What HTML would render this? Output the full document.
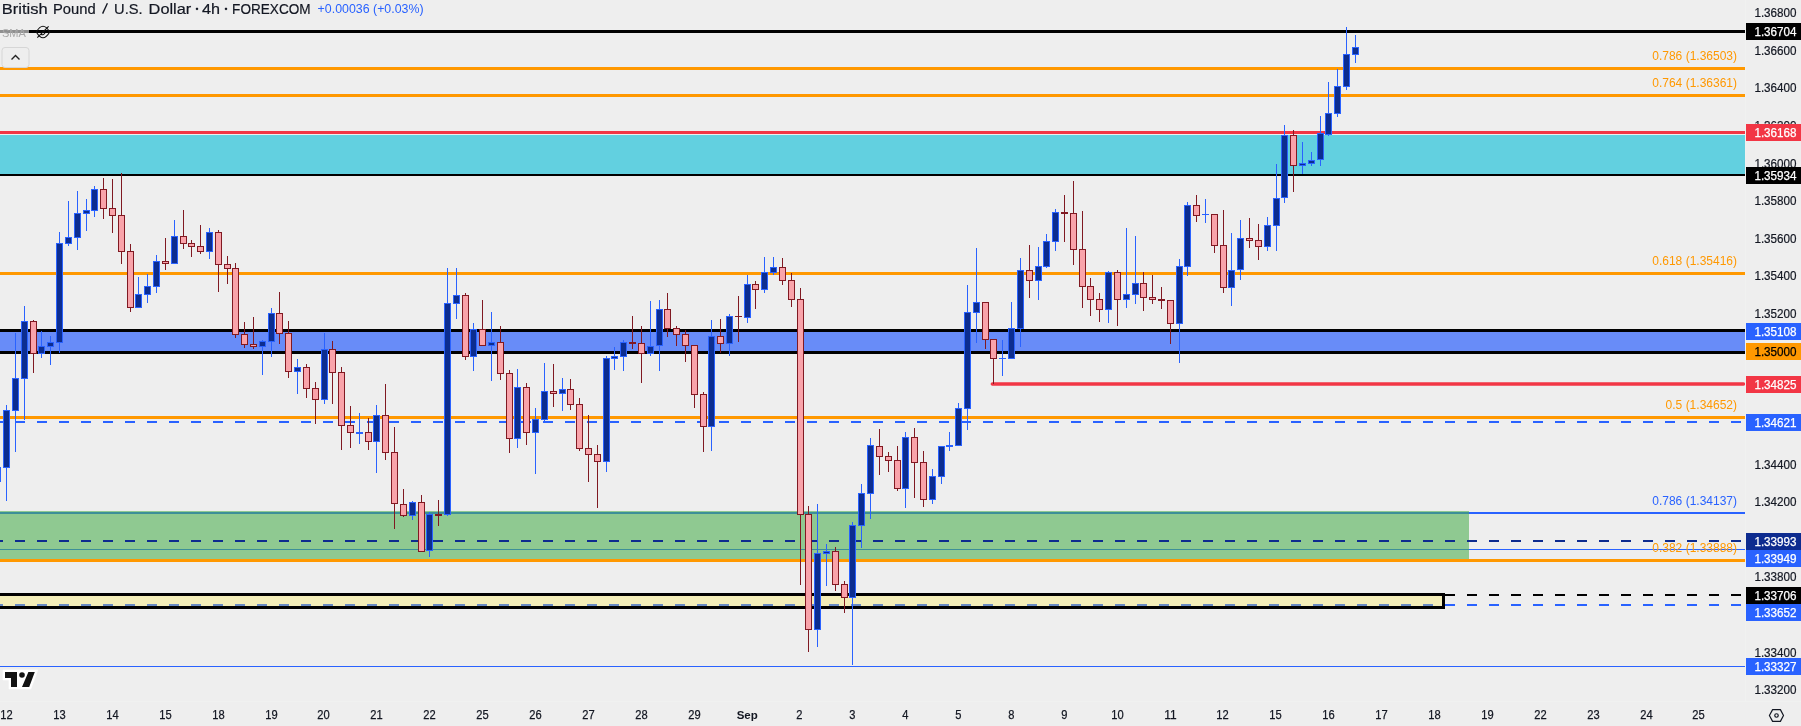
<!DOCTYPE html>
<html><head><meta charset="utf-8"><style>
html,body{margin:0;padding:0;background:#eeeeee;width:1801px;height:726px;overflow:hidden}
svg{display:block;font-family:"Liberation Sans",sans-serif;will-change:transform}
.ax{font-size:12px}
.fb{font-size:12px}
.dt{font-size:12px}
</style></head><body>
<svg width="1801" height="726" viewBox="0 0 1801 726">
<rect x="0" y="0" width="1801" height="726" fill="#eeeeee"/>
<g shape-rendering="crispEdges">
<rect x="0" y="512" width="1745" height="2" fill="#2962ff"/>
<rect x="0" y="549" width="1745" height="1" fill="#2962ff"/>
<rect x="0" y="604" width="3" height="2" fill="#2962ff"/>
<rect x="15" y="604" width="10" height="2" fill="#2962ff"/>
<rect x="37" y="604" width="10" height="2" fill="#2962ff"/>
<rect x="59" y="604" width="10" height="2" fill="#2962ff"/>
<rect x="81" y="604" width="10" height="2" fill="#2962ff"/>
<rect x="103" y="604" width="10" height="2" fill="#2962ff"/>
<rect x="125" y="604" width="10" height="2" fill="#2962ff"/>
<rect x="147" y="604" width="10" height="2" fill="#2962ff"/>
<rect x="169" y="604" width="10" height="2" fill="#2962ff"/>
<rect x="191" y="604" width="10" height="2" fill="#2962ff"/>
<rect x="213" y="604" width="10" height="2" fill="#2962ff"/>
<rect x="235" y="604" width="10" height="2" fill="#2962ff"/>
<rect x="257" y="604" width="10" height="2" fill="#2962ff"/>
<rect x="279" y="604" width="10" height="2" fill="#2962ff"/>
<rect x="301" y="604" width="10" height="2" fill="#2962ff"/>
<rect x="323" y="604" width="10" height="2" fill="#2962ff"/>
<rect x="345" y="604" width="10" height="2" fill="#2962ff"/>
<rect x="367" y="604" width="10" height="2" fill="#2962ff"/>
<rect x="389" y="604" width="10" height="2" fill="#2962ff"/>
<rect x="411" y="604" width="10" height="2" fill="#2962ff"/>
<rect x="433" y="604" width="10" height="2" fill="#2962ff"/>
<rect x="455" y="604" width="10" height="2" fill="#2962ff"/>
<rect x="477" y="604" width="10" height="2" fill="#2962ff"/>
<rect x="499" y="604" width="10" height="2" fill="#2962ff"/>
<rect x="521" y="604" width="10" height="2" fill="#2962ff"/>
<rect x="543" y="604" width="10" height="2" fill="#2962ff"/>
<rect x="565" y="604" width="10" height="2" fill="#2962ff"/>
<rect x="587" y="604" width="10" height="2" fill="#2962ff"/>
<rect x="609" y="604" width="10" height="2" fill="#2962ff"/>
<rect x="631" y="604" width="10" height="2" fill="#2962ff"/>
<rect x="653" y="604" width="10" height="2" fill="#2962ff"/>
<rect x="675" y="604" width="10" height="2" fill="#2962ff"/>
<rect x="697" y="604" width="10" height="2" fill="#2962ff"/>
<rect x="719" y="604" width="10" height="2" fill="#2962ff"/>
<rect x="741" y="604" width="10" height="2" fill="#2962ff"/>
<rect x="763" y="604" width="10" height="2" fill="#2962ff"/>
<rect x="785" y="604" width="10" height="2" fill="#2962ff"/>
<rect x="807" y="604" width="10" height="2" fill="#2962ff"/>
<rect x="829" y="604" width="10" height="2" fill="#2962ff"/>
<rect x="851" y="604" width="10" height="2" fill="#2962ff"/>
<rect x="873" y="604" width="10" height="2" fill="#2962ff"/>
<rect x="895" y="604" width="10" height="2" fill="#2962ff"/>
<rect x="917" y="604" width="10" height="2" fill="#2962ff"/>
<rect x="939" y="604" width="10" height="2" fill="#2962ff"/>
<rect x="961" y="604" width="10" height="2" fill="#2962ff"/>
<rect x="983" y="604" width="10" height="2" fill="#2962ff"/>
<rect x="1005" y="604" width="10" height="2" fill="#2962ff"/>
<rect x="1027" y="604" width="10" height="2" fill="#2962ff"/>
<rect x="1049" y="604" width="10" height="2" fill="#2962ff"/>
<rect x="1071" y="604" width="10" height="2" fill="#2962ff"/>
<rect x="1093" y="604" width="10" height="2" fill="#2962ff"/>
<rect x="1115" y="604" width="10" height="2" fill="#2962ff"/>
<rect x="1137" y="604" width="10" height="2" fill="#2962ff"/>
<rect x="1159" y="604" width="10" height="2" fill="#2962ff"/>
<rect x="1181" y="604" width="10" height="2" fill="#2962ff"/>
<rect x="1203" y="604" width="10" height="2" fill="#2962ff"/>
<rect x="1225" y="604" width="10" height="2" fill="#2962ff"/>
<rect x="1247" y="604" width="10" height="2" fill="#2962ff"/>
<rect x="1269" y="604" width="10" height="2" fill="#2962ff"/>
<rect x="1291" y="604" width="10" height="2" fill="#2962ff"/>
<rect x="1313" y="604" width="10" height="2" fill="#2962ff"/>
<rect x="1335" y="604" width="10" height="2" fill="#2962ff"/>
<rect x="1357" y="604" width="10" height="2" fill="#2962ff"/>
<rect x="1379" y="604" width="10" height="2" fill="#2962ff"/>
<rect x="1401" y="604" width="10" height="2" fill="#2962ff"/>
<rect x="1423" y="604" width="10" height="2" fill="#2962ff"/>
<rect x="1445" y="604" width="10" height="2" fill="#2962ff"/>
<rect x="1467" y="604" width="10" height="2" fill="#2962ff"/>
<rect x="1489" y="604" width="10" height="2" fill="#2962ff"/>
<rect x="1511" y="604" width="10" height="2" fill="#2962ff"/>
<rect x="1533" y="604" width="10" height="2" fill="#2962ff"/>
<rect x="1555" y="604" width="10" height="2" fill="#2962ff"/>
<rect x="1577" y="604" width="10" height="2" fill="#2962ff"/>
<rect x="1599" y="604" width="10" height="2" fill="#2962ff"/>
<rect x="1621" y="604" width="10" height="2" fill="#2962ff"/>
<rect x="1643" y="604" width="10" height="2" fill="#2962ff"/>
<rect x="1665" y="604" width="10" height="2" fill="#2962ff"/>
<rect x="1687" y="604" width="10" height="2" fill="#2962ff"/>
<rect x="1709" y="604" width="10" height="2" fill="#2962ff"/>
<rect x="1731" y="604" width="10" height="2" fill="#2962ff"/>
<rect x="0" y="421" width="3" height="2" fill="#2962ff"/>
<rect x="15" y="421" width="10" height="2" fill="#2962ff"/>
<rect x="37" y="421" width="10" height="2" fill="#2962ff"/>
<rect x="59" y="421" width="10" height="2" fill="#2962ff"/>
<rect x="81" y="421" width="10" height="2" fill="#2962ff"/>
<rect x="103" y="421" width="10" height="2" fill="#2962ff"/>
<rect x="125" y="421" width="10" height="2" fill="#2962ff"/>
<rect x="147" y="421" width="10" height="2" fill="#2962ff"/>
<rect x="169" y="421" width="10" height="2" fill="#2962ff"/>
<rect x="191" y="421" width="10" height="2" fill="#2962ff"/>
<rect x="213" y="421" width="10" height="2" fill="#2962ff"/>
<rect x="235" y="421" width="10" height="2" fill="#2962ff"/>
<rect x="257" y="421" width="10" height="2" fill="#2962ff"/>
<rect x="279" y="421" width="10" height="2" fill="#2962ff"/>
<rect x="301" y="421" width="10" height="2" fill="#2962ff"/>
<rect x="323" y="421" width="10" height="2" fill="#2962ff"/>
<rect x="345" y="421" width="10" height="2" fill="#2962ff"/>
<rect x="367" y="421" width="10" height="2" fill="#2962ff"/>
<rect x="389" y="421" width="10" height="2" fill="#2962ff"/>
<rect x="411" y="421" width="10" height="2" fill="#2962ff"/>
<rect x="433" y="421" width="10" height="2" fill="#2962ff"/>
<rect x="455" y="421" width="10" height="2" fill="#2962ff"/>
<rect x="477" y="421" width="10" height="2" fill="#2962ff"/>
<rect x="499" y="421" width="10" height="2" fill="#2962ff"/>
<rect x="521" y="421" width="10" height="2" fill="#2962ff"/>
<rect x="543" y="421" width="10" height="2" fill="#2962ff"/>
<rect x="565" y="421" width="10" height="2" fill="#2962ff"/>
<rect x="587" y="421" width="10" height="2" fill="#2962ff"/>
<rect x="609" y="421" width="10" height="2" fill="#2962ff"/>
<rect x="631" y="421" width="10" height="2" fill="#2962ff"/>
<rect x="653" y="421" width="10" height="2" fill="#2962ff"/>
<rect x="675" y="421" width="10" height="2" fill="#2962ff"/>
<rect x="697" y="421" width="10" height="2" fill="#2962ff"/>
<rect x="719" y="421" width="10" height="2" fill="#2962ff"/>
<rect x="741" y="421" width="10" height="2" fill="#2962ff"/>
<rect x="763" y="421" width="10" height="2" fill="#2962ff"/>
<rect x="785" y="421" width="10" height="2" fill="#2962ff"/>
<rect x="807" y="421" width="10" height="2" fill="#2962ff"/>
<rect x="829" y="421" width="10" height="2" fill="#2962ff"/>
<rect x="851" y="421" width="10" height="2" fill="#2962ff"/>
<rect x="873" y="421" width="10" height="2" fill="#2962ff"/>
<rect x="895" y="421" width="10" height="2" fill="#2962ff"/>
<rect x="917" y="421" width="10" height="2" fill="#2962ff"/>
<rect x="939" y="421" width="10" height="2" fill="#2962ff"/>
<rect x="961" y="421" width="10" height="2" fill="#2962ff"/>
<rect x="983" y="421" width="10" height="2" fill="#2962ff"/>
<rect x="1005" y="421" width="10" height="2" fill="#2962ff"/>
<rect x="1027" y="421" width="10" height="2" fill="#2962ff"/>
<rect x="1049" y="421" width="10" height="2" fill="#2962ff"/>
<rect x="1071" y="421" width="10" height="2" fill="#2962ff"/>
<rect x="1093" y="421" width="10" height="2" fill="#2962ff"/>
<rect x="1115" y="421" width="10" height="2" fill="#2962ff"/>
<rect x="1137" y="421" width="10" height="2" fill="#2962ff"/>
<rect x="1159" y="421" width="10" height="2" fill="#2962ff"/>
<rect x="1181" y="421" width="10" height="2" fill="#2962ff"/>
<rect x="1203" y="421" width="10" height="2" fill="#2962ff"/>
<rect x="1225" y="421" width="10" height="2" fill="#2962ff"/>
<rect x="1247" y="421" width="10" height="2" fill="#2962ff"/>
<rect x="1269" y="421" width="10" height="2" fill="#2962ff"/>
<rect x="1291" y="421" width="10" height="2" fill="#2962ff"/>
<rect x="1313" y="421" width="10" height="2" fill="#2962ff"/>
<rect x="1335" y="421" width="10" height="2" fill="#2962ff"/>
<rect x="1357" y="421" width="10" height="2" fill="#2962ff"/>
<rect x="1379" y="421" width="10" height="2" fill="#2962ff"/>
<rect x="1401" y="421" width="10" height="2" fill="#2962ff"/>
<rect x="1423" y="421" width="10" height="2" fill="#2962ff"/>
<rect x="1445" y="421" width="10" height="2" fill="#2962ff"/>
<rect x="1467" y="421" width="10" height="2" fill="#2962ff"/>
<rect x="1489" y="421" width="10" height="2" fill="#2962ff"/>
<rect x="1511" y="421" width="10" height="2" fill="#2962ff"/>
<rect x="1533" y="421" width="10" height="2" fill="#2962ff"/>
<rect x="1555" y="421" width="10" height="2" fill="#2962ff"/>
<rect x="1577" y="421" width="10" height="2" fill="#2962ff"/>
<rect x="1599" y="421" width="10" height="2" fill="#2962ff"/>
<rect x="1621" y="421" width="10" height="2" fill="#2962ff"/>
<rect x="1643" y="421" width="10" height="2" fill="#2962ff"/>
<rect x="1665" y="421" width="10" height="2" fill="#2962ff"/>
<rect x="1687" y="421" width="10" height="2" fill="#2962ff"/>
<rect x="1709" y="421" width="10" height="2" fill="#2962ff"/>
<rect x="1731" y="421" width="10" height="2" fill="#2962ff"/>
<rect x="0" y="135" width="1745" height="39" fill="#62d0e0"/>
<rect x="0" y="332" width="1745" height="19" fill="#688cf8"/>
<rect x="0" y="511" width="1469" height="48" fill="rgb(76,175,80)" fill-opacity="0.59"/>
<rect x="0" y="593" width="1445" height="3" fill="#000000"/>
<rect x="0" y="606" width="1445" height="3" fill="#000000"/>
<rect x="1442" y="593" width="3" height="16" fill="#000000"/>
<rect x="0" y="596" width="1442" height="10" fill="rgb(255,235,59)" fill-opacity="0.3"/>
<rect x="0" y="30" width="1745" height="3" fill="#000"/>
<rect x="0" y="67" width="1745" height="3" fill="#ff9800"/>
<rect x="0" y="94" width="1745" height="3" fill="#ff9800"/>
<rect x="0" y="131" width="1745" height="3" fill="#f23645"/>
<rect x="0" y="174" width="1745" height="2" fill="#000"/>
<rect x="0" y="272" width="1745" height="3" fill="#ff9800"/>
<rect x="0" y="329" width="1745" height="3" fill="#000"/>
<rect x="0" y="351" width="1745" height="3" fill="#000"/>
<line x1="992.4" y1="384" x2="1743.5" y2="384" stroke="#f23645" stroke-width="3.6" stroke-linecap="round" shape-rendering="auto"/>
<rect x="0" y="416" width="1745" height="3" fill="#ff9800"/>
<rect x="0" y="540" width="3" height="2" fill="#0d2b8f"/>
<rect x="15" y="540" width="10" height="2" fill="#0d2b8f"/>
<rect x="37" y="540" width="10" height="2" fill="#0d2b8f"/>
<rect x="59" y="540" width="10" height="2" fill="#0d2b8f"/>
<rect x="81" y="540" width="10" height="2" fill="#0d2b8f"/>
<rect x="103" y="540" width="10" height="2" fill="#0d2b8f"/>
<rect x="125" y="540" width="10" height="2" fill="#0d2b8f"/>
<rect x="147" y="540" width="10" height="2" fill="#0d2b8f"/>
<rect x="169" y="540" width="10" height="2" fill="#0d2b8f"/>
<rect x="191" y="540" width="10" height="2" fill="#0d2b8f"/>
<rect x="213" y="540" width="10" height="2" fill="#0d2b8f"/>
<rect x="235" y="540" width="10" height="2" fill="#0d2b8f"/>
<rect x="257" y="540" width="10" height="2" fill="#0d2b8f"/>
<rect x="279" y="540" width="10" height="2" fill="#0d2b8f"/>
<rect x="301" y="540" width="10" height="2" fill="#0d2b8f"/>
<rect x="323" y="540" width="10" height="2" fill="#0d2b8f"/>
<rect x="345" y="540" width="10" height="2" fill="#0d2b8f"/>
<rect x="367" y="540" width="10" height="2" fill="#0d2b8f"/>
<rect x="389" y="540" width="10" height="2" fill="#0d2b8f"/>
<rect x="411" y="540" width="10" height="2" fill="#0d2b8f"/>
<rect x="433" y="540" width="10" height="2" fill="#0d2b8f"/>
<rect x="455" y="540" width="10" height="2" fill="#0d2b8f"/>
<rect x="477" y="540" width="10" height="2" fill="#0d2b8f"/>
<rect x="499" y="540" width="10" height="2" fill="#0d2b8f"/>
<rect x="521" y="540" width="10" height="2" fill="#0d2b8f"/>
<rect x="543" y="540" width="10" height="2" fill="#0d2b8f"/>
<rect x="565" y="540" width="10" height="2" fill="#0d2b8f"/>
<rect x="587" y="540" width="10" height="2" fill="#0d2b8f"/>
<rect x="609" y="540" width="10" height="2" fill="#0d2b8f"/>
<rect x="631" y="540" width="10" height="2" fill="#0d2b8f"/>
<rect x="653" y="540" width="10" height="2" fill="#0d2b8f"/>
<rect x="675" y="540" width="10" height="2" fill="#0d2b8f"/>
<rect x="697" y="540" width="10" height="2" fill="#0d2b8f"/>
<rect x="719" y="540" width="10" height="2" fill="#0d2b8f"/>
<rect x="741" y="540" width="10" height="2" fill="#0d2b8f"/>
<rect x="763" y="540" width="10" height="2" fill="#0d2b8f"/>
<rect x="785" y="540" width="10" height="2" fill="#0d2b8f"/>
<rect x="807" y="540" width="10" height="2" fill="#0d2b8f"/>
<rect x="829" y="540" width="10" height="2" fill="#0d2b8f"/>
<rect x="851" y="540" width="10" height="2" fill="#0d2b8f"/>
<rect x="873" y="540" width="10" height="2" fill="#0d2b8f"/>
<rect x="895" y="540" width="10" height="2" fill="#0d2b8f"/>
<rect x="917" y="540" width="10" height="2" fill="#0d2b8f"/>
<rect x="939" y="540" width="10" height="2" fill="#0d2b8f"/>
<rect x="961" y="540" width="10" height="2" fill="#0d2b8f"/>
<rect x="983" y="540" width="10" height="2" fill="#0d2b8f"/>
<rect x="1005" y="540" width="10" height="2" fill="#0d2b8f"/>
<rect x="1027" y="540" width="10" height="2" fill="#0d2b8f"/>
<rect x="1049" y="540" width="10" height="2" fill="#0d2b8f"/>
<rect x="1071" y="540" width="10" height="2" fill="#0d2b8f"/>
<rect x="1093" y="540" width="10" height="2" fill="#0d2b8f"/>
<rect x="1115" y="540" width="10" height="2" fill="#0d2b8f"/>
<rect x="1137" y="540" width="10" height="2" fill="#0d2b8f"/>
<rect x="1159" y="540" width="10" height="2" fill="#0d2b8f"/>
<rect x="1181" y="540" width="10" height="2" fill="#0d2b8f"/>
<rect x="1203" y="540" width="10" height="2" fill="#0d2b8f"/>
<rect x="1225" y="540" width="10" height="2" fill="#0d2b8f"/>
<rect x="1247" y="540" width="10" height="2" fill="#0d2b8f"/>
<rect x="1269" y="540" width="10" height="2" fill="#0d2b8f"/>
<rect x="1291" y="540" width="10" height="2" fill="#0d2b8f"/>
<rect x="1313" y="540" width="10" height="2" fill="#0d2b8f"/>
<rect x="1335" y="540" width="10" height="2" fill="#0d2b8f"/>
<rect x="1357" y="540" width="10" height="2" fill="#0d2b8f"/>
<rect x="1379" y="540" width="10" height="2" fill="#0d2b8f"/>
<rect x="1401" y="540" width="10" height="2" fill="#0d2b8f"/>
<rect x="1423" y="540" width="10" height="2" fill="#0d2b8f"/>
<rect x="1445" y="540" width="10" height="2" fill="#0d2b8f"/>
<rect x="1467" y="540" width="10" height="2" fill="#0d2b8f"/>
<rect x="1489" y="540" width="10" height="2" fill="#0d2b8f"/>
<rect x="1511" y="540" width="10" height="2" fill="#0d2b8f"/>
<rect x="1533" y="540" width="10" height="2" fill="#0d2b8f"/>
<rect x="1555" y="540" width="10" height="2" fill="#0d2b8f"/>
<rect x="1577" y="540" width="10" height="2" fill="#0d2b8f"/>
<rect x="1599" y="540" width="10" height="2" fill="#0d2b8f"/>
<rect x="1621" y="540" width="10" height="2" fill="#0d2b8f"/>
<rect x="1643" y="540" width="10" height="2" fill="#0d2b8f"/>
<rect x="1665" y="540" width="10" height="2" fill="#0d2b8f"/>
<rect x="1687" y="540" width="10" height="2" fill="#0d2b8f"/>
<rect x="1709" y="540" width="10" height="2" fill="#0d2b8f"/>
<rect x="1731" y="540" width="10" height="2" fill="#0d2b8f"/>
<rect x="0" y="559" width="1745" height="3" fill="#ff9800"/>
<rect x="1445" y="594" width="10" height="2" fill="#000"/>
<rect x="1467" y="594" width="10" height="2" fill="#000"/>
<rect x="1489" y="594" width="10" height="2" fill="#000"/>
<rect x="1511" y="594" width="10" height="2" fill="#000"/>
<rect x="1533" y="594" width="10" height="2" fill="#000"/>
<rect x="1555" y="594" width="10" height="2" fill="#000"/>
<rect x="1577" y="594" width="10" height="2" fill="#000"/>
<rect x="1599" y="594" width="10" height="2" fill="#000"/>
<rect x="1621" y="594" width="10" height="2" fill="#000"/>
<rect x="1643" y="594" width="10" height="2" fill="#000"/>
<rect x="1665" y="594" width="10" height="2" fill="#000"/>
<rect x="1687" y="594" width="10" height="2" fill="#000"/>
<rect x="1709" y="594" width="10" height="2" fill="#000"/>
<rect x="1731" y="594" width="10" height="2" fill="#000"/>
<rect x="0" y="666" width="1745" height="1" fill="#2962ff"/>
<rect x="1745" y="0" width="1" height="701" fill="#f0f1f0"/>
<rect x="0" y="701" width="1801" height="1" fill="#f0f1f0"/>
<rect x="0" y="467" width="1" height="15" fill="#2962ff"/>
<rect x="6" y="405" width="1" height="96" fill="#2962ff"/>
<rect x="3" y="410" width="7" height="58" fill="#2962ff"/>
<rect x="4" y="411" width="5" height="56" fill="#0c2d90"/>
<rect x="15" y="333" width="1" height="119" fill="#2962ff"/>
<rect x="12" y="378" width="7" height="33" fill="#2962ff"/>
<rect x="13" y="379" width="5" height="31" fill="#0c2d90"/>
<rect x="24" y="306" width="1" height="114" fill="#2962ff"/>
<rect x="21" y="321" width="7" height="58" fill="#2962ff"/>
<rect x="22" y="322" width="5" height="56" fill="#0c2d90"/>
<rect x="33" y="320" width="1" height="53" fill="#801922"/>
<rect x="30" y="321" width="7" height="33" fill="#801922"/>
<rect x="31" y="322" width="5" height="31" fill="#f9a3aa"/>
<rect x="41" y="331" width="1" height="27" fill="#2962ff"/>
<rect x="38" y="346" width="7" height="8" fill="#2962ff"/>
<rect x="39" y="347" width="5" height="6" fill="#0c2d90"/>
<rect x="50" y="336" width="1" height="29" fill="#2962ff"/>
<rect x="47" y="342" width="7" height="5" fill="#2962ff"/>
<rect x="48" y="343" width="5" height="3" fill="#0c2d90"/>
<rect x="59" y="232" width="1" height="121" fill="#2962ff"/>
<rect x="56" y="243" width="7" height="100" fill="#2962ff"/>
<rect x="57" y="244" width="5" height="98" fill="#0c2d90"/>
<rect x="68" y="201" width="1" height="45" fill="#2962ff"/>
<rect x="65" y="237" width="7" height="7" fill="#2962ff"/>
<rect x="66" y="238" width="5" height="5" fill="#0c2d90"/>
<rect x="77" y="191" width="1" height="59" fill="#2962ff"/>
<rect x="74" y="213" width="7" height="25" fill="#2962ff"/>
<rect x="75" y="214" width="5" height="23" fill="#0c2d90"/>
<rect x="86" y="199" width="1" height="32" fill="#2962ff"/>
<rect x="83" y="210" width="7" height="4" fill="#2962ff"/>
<rect x="84" y="211" width="5" height="2" fill="#0c2d90"/>
<rect x="94" y="186" width="1" height="31" fill="#2962ff"/>
<rect x="91" y="189" width="7" height="22" fill="#2962ff"/>
<rect x="92" y="190" width="5" height="20" fill="#0c2d90"/>
<rect x="103" y="178" width="1" height="41" fill="#801922"/>
<rect x="100" y="189" width="7" height="20" fill="#801922"/>
<rect x="101" y="190" width="5" height="18" fill="#f9a3aa"/>
<rect x="112" y="179" width="1" height="54" fill="#801922"/>
<rect x="109" y="208" width="7" height="8" fill="#801922"/>
<rect x="110" y="209" width="5" height="6" fill="#f9a3aa"/>
<rect x="121" y="173" width="1" height="91" fill="#801922"/>
<rect x="118" y="215" width="7" height="37" fill="#801922"/>
<rect x="119" y="216" width="5" height="35" fill="#f9a3aa"/>
<rect x="130" y="244" width="1" height="68" fill="#801922"/>
<rect x="127" y="251" width="7" height="57" fill="#801922"/>
<rect x="128" y="252" width="5" height="55" fill="#f9a3aa"/>
<rect x="138" y="277" width="1" height="31" fill="#2962ff"/>
<rect x="135" y="294" width="7" height="14" fill="#2962ff"/>
<rect x="136" y="295" width="5" height="12" fill="#0c2d90"/>
<rect x="147" y="274" width="1" height="29" fill="#2962ff"/>
<rect x="144" y="286" width="7" height="9" fill="#2962ff"/>
<rect x="145" y="287" width="5" height="7" fill="#0c2d90"/>
<rect x="156" y="255" width="1" height="38" fill="#2962ff"/>
<rect x="153" y="261" width="7" height="26" fill="#2962ff"/>
<rect x="154" y="262" width="5" height="24" fill="#0c2d90"/>
<rect x="165" y="238" width="1" height="32" fill="#801922"/>
<rect x="162" y="261" width="7" height="3" fill="#801922"/>
<rect x="163" y="262" width="5" height="1" fill="#f9a3aa"/>
<rect x="174" y="220" width="1" height="44" fill="#2962ff"/>
<rect x="171" y="236" width="7" height="28" fill="#2962ff"/>
<rect x="172" y="237" width="5" height="26" fill="#0c2d90"/>
<rect x="183" y="210" width="1" height="39" fill="#801922"/>
<rect x="180" y="236" width="7" height="8" fill="#801922"/>
<rect x="181" y="237" width="5" height="6" fill="#f9a3aa"/>
<rect x="191" y="240" width="1" height="17" fill="#801922"/>
<rect x="188" y="243" width="7" height="4" fill="#801922"/>
<rect x="189" y="244" width="5" height="2" fill="#f9a3aa"/>
<rect x="200" y="225" width="1" height="29" fill="#801922"/>
<rect x="197" y="246" width="7" height="6" fill="#801922"/>
<rect x="198" y="247" width="5" height="4" fill="#f9a3aa"/>
<rect x="209" y="228" width="1" height="31" fill="#2962ff"/>
<rect x="206" y="232" width="7" height="20" fill="#2962ff"/>
<rect x="207" y="233" width="5" height="18" fill="#0c2d90"/>
<rect x="218" y="230" width="1" height="62" fill="#801922"/>
<rect x="215" y="232" width="7" height="33" fill="#801922"/>
<rect x="216" y="233" width="5" height="31" fill="#f9a3aa"/>
<rect x="227" y="256" width="1" height="28" fill="#801922"/>
<rect x="224" y="264" width="7" height="5" fill="#801922"/>
<rect x="225" y="265" width="5" height="3" fill="#f9a3aa"/>
<rect x="235" y="263" width="1" height="75" fill="#801922"/>
<rect x="232" y="268" width="7" height="67" fill="#801922"/>
<rect x="233" y="269" width="5" height="65" fill="#f9a3aa"/>
<rect x="244" y="322" width="1" height="26" fill="#801922"/>
<rect x="241" y="334" width="7" height="11" fill="#801922"/>
<rect x="242" y="335" width="5" height="9" fill="#f9a3aa"/>
<rect x="253" y="317" width="1" height="32" fill="#801922"/>
<rect x="250" y="344" width="7" height="3" fill="#801922"/>
<rect x="251" y="345" width="5" height="1" fill="#f9a3aa"/>
<rect x="262" y="340" width="1" height="35" fill="#2962ff"/>
<rect x="259" y="341" width="7" height="6" fill="#2962ff"/>
<rect x="260" y="342" width="5" height="4" fill="#0c2d90"/>
<rect x="271" y="308" width="1" height="49" fill="#2962ff"/>
<rect x="268" y="313" width="7" height="29" fill="#2962ff"/>
<rect x="269" y="314" width="5" height="27" fill="#0c2d90"/>
<rect x="279" y="292" width="1" height="52" fill="#801922"/>
<rect x="276" y="313" width="7" height="21" fill="#801922"/>
<rect x="277" y="314" width="5" height="19" fill="#f9a3aa"/>
<rect x="288" y="321" width="1" height="57" fill="#801922"/>
<rect x="285" y="333" width="7" height="39" fill="#801922"/>
<rect x="286" y="334" width="5" height="37" fill="#f9a3aa"/>
<rect x="297" y="359" width="1" height="35" fill="#2962ff"/>
<rect x="294" y="367" width="7" height="5" fill="#2962ff"/>
<rect x="295" y="368" width="5" height="3" fill="#0c2d90"/>
<rect x="306" y="364" width="1" height="34" fill="#801922"/>
<rect x="303" y="367" width="7" height="22" fill="#801922"/>
<rect x="304" y="368" width="5" height="20" fill="#f9a3aa"/>
<rect x="315" y="382" width="1" height="42" fill="#801922"/>
<rect x="312" y="388" width="7" height="12" fill="#801922"/>
<rect x="313" y="389" width="5" height="10" fill="#f9a3aa"/>
<rect x="324" y="333" width="1" height="71" fill="#2962ff"/>
<rect x="321" y="349" width="7" height="51" fill="#2962ff"/>
<rect x="322" y="350" width="5" height="49" fill="#0c2d90"/>
<rect x="332" y="341" width="1" height="63" fill="#801922"/>
<rect x="329" y="349" width="7" height="24" fill="#801922"/>
<rect x="330" y="350" width="5" height="22" fill="#f9a3aa"/>
<rect x="341" y="367" width="1" height="83" fill="#801922"/>
<rect x="338" y="372" width="7" height="54" fill="#801922"/>
<rect x="339" y="373" width="5" height="52" fill="#f9a3aa"/>
<rect x="350" y="406" width="1" height="42" fill="#801922"/>
<rect x="347" y="425" width="7" height="8" fill="#801922"/>
<rect x="348" y="426" width="5" height="6" fill="#f9a3aa"/>
<rect x="359" y="413" width="1" height="31" fill="#2962ff"/>
<rect x="356" y="432" width="7" height="2" fill="#2962ff"/>
<rect x="368" y="418" width="1" height="32" fill="#801922"/>
<rect x="365" y="432" width="7" height="10" fill="#801922"/>
<rect x="366" y="433" width="5" height="8" fill="#f9a3aa"/>
<rect x="376" y="405" width="1" height="68" fill="#2962ff"/>
<rect x="373" y="415" width="7" height="27" fill="#2962ff"/>
<rect x="374" y="416" width="5" height="25" fill="#0c2d90"/>
<rect x="385" y="384" width="1" height="76" fill="#801922"/>
<rect x="382" y="415" width="7" height="38" fill="#801922"/>
<rect x="383" y="416" width="5" height="36" fill="#f9a3aa"/>
<rect x="394" y="427" width="1" height="102" fill="#801922"/>
<rect x="391" y="452" width="7" height="52" fill="#801922"/>
<rect x="392" y="453" width="5" height="50" fill="#f9a3aa"/>
<rect x="403" y="489" width="1" height="28" fill="#801922"/>
<rect x="400" y="504" width="7" height="12" fill="#801922"/>
<rect x="401" y="505" width="5" height="10" fill="#f9a3aa"/>
<rect x="412" y="501" width="1" height="19" fill="#2962ff"/>
<rect x="409" y="502" width="7" height="14" fill="#2962ff"/>
<rect x="410" y="503" width="5" height="12" fill="#0c2d90"/>
<rect x="421" y="495" width="1" height="57" fill="#801922"/>
<rect x="418" y="502" width="7" height="50" fill="#801922"/>
<rect x="419" y="503" width="5" height="48" fill="#f9a3aa"/>
<rect x="429" y="512" width="1" height="45" fill="#2962ff"/>
<rect x="426" y="514" width="7" height="37" fill="#2962ff"/>
<rect x="427" y="515" width="5" height="35" fill="#0c2d90"/>
<rect x="438" y="500" width="1" height="26" fill="#801922"/>
<rect x="435" y="514" width="7" height="2" fill="#801922"/>
<rect x="447" y="268" width="1" height="248" fill="#2962ff"/>
<rect x="444" y="303" width="7" height="212" fill="#2962ff"/>
<rect x="445" y="304" width="5" height="210" fill="#0c2d90"/>
<rect x="456" y="268" width="1" height="51" fill="#2962ff"/>
<rect x="453" y="295" width="7" height="9" fill="#2962ff"/>
<rect x="454" y="296" width="5" height="7" fill="#0c2d90"/>
<rect x="465" y="293" width="1" height="67" fill="#801922"/>
<rect x="462" y="295" width="7" height="62" fill="#801922"/>
<rect x="463" y="296" width="5" height="60" fill="#f9a3aa"/>
<rect x="473" y="323" width="1" height="48" fill="#2962ff"/>
<rect x="470" y="329" width="7" height="28" fill="#2962ff"/>
<rect x="471" y="330" width="5" height="26" fill="#0c2d90"/>
<rect x="482" y="300" width="1" height="46" fill="#801922"/>
<rect x="479" y="329" width="7" height="17" fill="#801922"/>
<rect x="480" y="330" width="5" height="15" fill="#f9a3aa"/>
<rect x="491" y="312" width="1" height="69" fill="#2962ff"/>
<rect x="488" y="342" width="7" height="4" fill="#2962ff"/>
<rect x="489" y="343" width="5" height="2" fill="#0c2d90"/>
<rect x="500" y="326" width="1" height="54" fill="#801922"/>
<rect x="497" y="342" width="7" height="32" fill="#801922"/>
<rect x="498" y="343" width="5" height="30" fill="#f9a3aa"/>
<rect x="509" y="370" width="1" height="83" fill="#801922"/>
<rect x="506" y="373" width="7" height="66" fill="#801922"/>
<rect x="507" y="374" width="5" height="64" fill="#f9a3aa"/>
<rect x="517" y="369" width="1" height="79" fill="#2962ff"/>
<rect x="514" y="387" width="7" height="52" fill="#2962ff"/>
<rect x="515" y="388" width="5" height="50" fill="#0c2d90"/>
<rect x="526" y="383" width="1" height="62" fill="#801922"/>
<rect x="523" y="387" width="7" height="46" fill="#801922"/>
<rect x="524" y="388" width="5" height="44" fill="#f9a3aa"/>
<rect x="535" y="408" width="1" height="66" fill="#2962ff"/>
<rect x="532" y="419" width="7" height="14" fill="#2962ff"/>
<rect x="533" y="420" width="5" height="12" fill="#0c2d90"/>
<rect x="544" y="363" width="1" height="58" fill="#2962ff"/>
<rect x="541" y="391" width="7" height="29" fill="#2962ff"/>
<rect x="542" y="392" width="5" height="27" fill="#0c2d90"/>
<rect x="553" y="364" width="1" height="43" fill="#801922"/>
<rect x="550" y="391" width="7" height="3" fill="#801922"/>
<rect x="551" y="392" width="5" height="1" fill="#f9a3aa"/>
<rect x="562" y="378" width="1" height="33" fill="#2962ff"/>
<rect x="559" y="389" width="7" height="5" fill="#2962ff"/>
<rect x="560" y="390" width="5" height="3" fill="#0c2d90"/>
<rect x="570" y="379" width="1" height="31" fill="#801922"/>
<rect x="567" y="389" width="7" height="16" fill="#801922"/>
<rect x="568" y="390" width="5" height="14" fill="#f9a3aa"/>
<rect x="579" y="398" width="1" height="53" fill="#801922"/>
<rect x="576" y="404" width="7" height="45" fill="#801922"/>
<rect x="577" y="405" width="5" height="43" fill="#f9a3aa"/>
<rect x="588" y="415" width="1" height="67" fill="#801922"/>
<rect x="585" y="448" width="7" height="7" fill="#801922"/>
<rect x="586" y="449" width="5" height="5" fill="#f9a3aa"/>
<rect x="597" y="445" width="1" height="63" fill="#801922"/>
<rect x="594" y="454" width="7" height="8" fill="#801922"/>
<rect x="595" y="455" width="5" height="6" fill="#f9a3aa"/>
<rect x="606" y="356" width="1" height="116" fill="#2962ff"/>
<rect x="603" y="358" width="7" height="104" fill="#2962ff"/>
<rect x="604" y="359" width="5" height="102" fill="#0c2d90"/>
<rect x="614" y="347" width="1" height="23" fill="#2962ff"/>
<rect x="611" y="356" width="7" height="3" fill="#2962ff"/>
<rect x="612" y="357" width="5" height="1" fill="#0c2d90"/>
<rect x="623" y="340" width="1" height="31" fill="#2962ff"/>
<rect x="620" y="342" width="7" height="15" fill="#2962ff"/>
<rect x="621" y="343" width="5" height="13" fill="#0c2d90"/>
<rect x="632" y="316" width="1" height="33" fill="#801922"/>
<rect x="629" y="342" width="7" height="2" fill="#801922"/>
<rect x="641" y="326" width="1" height="57" fill="#801922"/>
<rect x="638" y="343" width="7" height="11" fill="#801922"/>
<rect x="639" y="344" width="5" height="9" fill="#f9a3aa"/>
<rect x="650" y="301" width="1" height="55" fill="#2962ff"/>
<rect x="647" y="346" width="7" height="8" fill="#2962ff"/>
<rect x="648" y="347" width="5" height="6" fill="#0c2d90"/>
<rect x="659" y="300" width="1" height="71" fill="#2962ff"/>
<rect x="656" y="309" width="7" height="37" fill="#2962ff"/>
<rect x="657" y="310" width="5" height="35" fill="#0c2d90"/>
<rect x="667" y="293" width="1" height="44" fill="#801922"/>
<rect x="664" y="309" width="7" height="20" fill="#801922"/>
<rect x="665" y="310" width="5" height="18" fill="#f9a3aa"/>
<rect x="676" y="326" width="1" height="20" fill="#801922"/>
<rect x="673" y="328" width="7" height="7" fill="#801922"/>
<rect x="674" y="329" width="5" height="5" fill="#f9a3aa"/>
<rect x="685" y="330" width="1" height="32" fill="#801922"/>
<rect x="682" y="334" width="7" height="12" fill="#801922"/>
<rect x="683" y="335" width="5" height="10" fill="#f9a3aa"/>
<rect x="694" y="345" width="1" height="63" fill="#801922"/>
<rect x="691" y="345" width="7" height="50" fill="#801922"/>
<rect x="692" y="346" width="5" height="48" fill="#f9a3aa"/>
<rect x="703" y="392" width="1" height="60" fill="#801922"/>
<rect x="700" y="394" width="7" height="33" fill="#801922"/>
<rect x="701" y="395" width="5" height="31" fill="#f9a3aa"/>
<rect x="711" y="320" width="1" height="131" fill="#2962ff"/>
<rect x="708" y="336" width="7" height="91" fill="#2962ff"/>
<rect x="709" y="337" width="5" height="89" fill="#0c2d90"/>
<rect x="720" y="319" width="1" height="34" fill="#801922"/>
<rect x="717" y="336" width="7" height="8" fill="#801922"/>
<rect x="718" y="337" width="5" height="6" fill="#f9a3aa"/>
<rect x="729" y="314" width="1" height="42" fill="#2962ff"/>
<rect x="726" y="316" width="7" height="28" fill="#2962ff"/>
<rect x="727" y="317" width="5" height="26" fill="#0c2d90"/>
<rect x="738" y="296" width="1" height="46" fill="#801922"/>
<rect x="735" y="316" width="7" height="1" fill="#801922"/>
<rect x="747" y="275" width="1" height="48" fill="#2962ff"/>
<rect x="744" y="284" width="7" height="34" fill="#2962ff"/>
<rect x="745" y="285" width="5" height="32" fill="#0c2d90"/>
<rect x="755" y="281" width="1" height="28" fill="#801922"/>
<rect x="752" y="284" width="7" height="6" fill="#801922"/>
<rect x="753" y="285" width="5" height="4" fill="#f9a3aa"/>
<rect x="764" y="257" width="1" height="36" fill="#2962ff"/>
<rect x="761" y="272" width="7" height="18" fill="#2962ff"/>
<rect x="762" y="273" width="5" height="16" fill="#0c2d90"/>
<rect x="773" y="257" width="1" height="18" fill="#2962ff"/>
<rect x="770" y="267" width="7" height="6" fill="#2962ff"/>
<rect x="771" y="268" width="5" height="4" fill="#0c2d90"/>
<rect x="782" y="258" width="1" height="27" fill="#801922"/>
<rect x="779" y="267" width="7" height="14" fill="#801922"/>
<rect x="780" y="268" width="5" height="12" fill="#f9a3aa"/>
<rect x="791" y="273" width="1" height="34" fill="#801922"/>
<rect x="788" y="280" width="7" height="20" fill="#801922"/>
<rect x="789" y="281" width="5" height="18" fill="#f9a3aa"/>
<rect x="800" y="288" width="1" height="297" fill="#801922"/>
<rect x="797" y="299" width="7" height="216" fill="#801922"/>
<rect x="798" y="300" width="5" height="214" fill="#f9a3aa"/>
<rect x="808" y="506" width="1" height="146" fill="#801922"/>
<rect x="805" y="514" width="7" height="116" fill="#801922"/>
<rect x="806" y="515" width="5" height="114" fill="#f9a3aa"/>
<rect x="817" y="504" width="1" height="143" fill="#2962ff"/>
<rect x="814" y="553" width="7" height="77" fill="#2962ff"/>
<rect x="815" y="554" width="5" height="75" fill="#0c2d90"/>
<rect x="826" y="544" width="1" height="42" fill="#2962ff"/>
<rect x="823" y="551" width="7" height="3" fill="#2962ff"/>
<rect x="824" y="552" width="5" height="1" fill="#0c2d90"/>
<rect x="835" y="547" width="1" height="44" fill="#801922"/>
<rect x="832" y="551" width="7" height="34" fill="#801922"/>
<rect x="833" y="552" width="5" height="32" fill="#f9a3aa"/>
<rect x="844" y="581" width="1" height="32" fill="#801922"/>
<rect x="841" y="584" width="7" height="14" fill="#801922"/>
<rect x="842" y="585" width="5" height="12" fill="#f9a3aa"/>
<rect x="852" y="522" width="1" height="143" fill="#2962ff"/>
<rect x="849" y="525" width="7" height="73" fill="#2962ff"/>
<rect x="850" y="526" width="5" height="71" fill="#0c2d90"/>
<rect x="861" y="484" width="1" height="64" fill="#2962ff"/>
<rect x="858" y="493" width="7" height="33" fill="#2962ff"/>
<rect x="859" y="494" width="5" height="31" fill="#0c2d90"/>
<rect x="870" y="438" width="1" height="81" fill="#2962ff"/>
<rect x="867" y="445" width="7" height="49" fill="#2962ff"/>
<rect x="868" y="446" width="5" height="47" fill="#0c2d90"/>
<rect x="879" y="429" width="1" height="46" fill="#801922"/>
<rect x="876" y="446" width="7" height="11" fill="#801922"/>
<rect x="877" y="447" width="5" height="9" fill="#f9a3aa"/>
<rect x="888" y="452" width="1" height="20" fill="#801922"/>
<rect x="885" y="456" width="7" height="5" fill="#801922"/>
<rect x="886" y="457" width="5" height="3" fill="#f9a3aa"/>
<rect x="897" y="446" width="1" height="45" fill="#801922"/>
<rect x="894" y="460" width="7" height="29" fill="#801922"/>
<rect x="895" y="461" width="5" height="27" fill="#f9a3aa"/>
<rect x="905" y="432" width="1" height="76" fill="#2962ff"/>
<rect x="902" y="437" width="7" height="52" fill="#2962ff"/>
<rect x="903" y="438" width="5" height="50" fill="#0c2d90"/>
<rect x="914" y="428" width="1" height="70" fill="#801922"/>
<rect x="911" y="437" width="7" height="26" fill="#801922"/>
<rect x="912" y="438" width="5" height="24" fill="#f9a3aa"/>
<rect x="923" y="451" width="1" height="56" fill="#801922"/>
<rect x="920" y="462" width="7" height="38" fill="#801922"/>
<rect x="921" y="463" width="5" height="36" fill="#f9a3aa"/>
<rect x="932" y="469" width="1" height="35" fill="#2962ff"/>
<rect x="929" y="476" width="7" height="24" fill="#2962ff"/>
<rect x="930" y="477" width="5" height="22" fill="#0c2d90"/>
<rect x="941" y="446" width="1" height="38" fill="#2962ff"/>
<rect x="938" y="446" width="7" height="31" fill="#2962ff"/>
<rect x="939" y="447" width="5" height="29" fill="#0c2d90"/>
<rect x="949" y="432" width="1" height="19" fill="#2962ff"/>
<rect x="946" y="445" width="7" height="2" fill="#2962ff"/>
<rect x="958" y="403" width="1" height="43" fill="#2962ff"/>
<rect x="955" y="408" width="7" height="38" fill="#2962ff"/>
<rect x="956" y="409" width="5" height="36" fill="#0c2d90"/>
<rect x="967" y="285" width="1" height="145" fill="#2962ff"/>
<rect x="964" y="312" width="7" height="97" fill="#2962ff"/>
<rect x="965" y="313" width="5" height="95" fill="#0c2d90"/>
<rect x="976" y="248" width="1" height="95" fill="#2962ff"/>
<rect x="973" y="302" width="7" height="11" fill="#2962ff"/>
<rect x="974" y="303" width="5" height="9" fill="#0c2d90"/>
<rect x="985" y="302" width="1" height="47" fill="#801922"/>
<rect x="982" y="302" width="7" height="38" fill="#801922"/>
<rect x="983" y="303" width="5" height="36" fill="#f9a3aa"/>
<rect x="993" y="339" width="1" height="45" fill="#801922"/>
<rect x="990" y="339" width="7" height="20" fill="#801922"/>
<rect x="991" y="340" width="5" height="18" fill="#f9a3aa"/>
<rect x="1002" y="340" width="1" height="36" fill="#2962ff"/>
<rect x="999" y="358" width="7" height="1" fill="#2962ff"/>
<rect x="1011" y="302" width="1" height="57" fill="#2962ff"/>
<rect x="1008" y="328" width="7" height="31" fill="#2962ff"/>
<rect x="1009" y="329" width="5" height="29" fill="#0c2d90"/>
<rect x="1020" y="258" width="1" height="89" fill="#2962ff"/>
<rect x="1017" y="270" width="7" height="59" fill="#2962ff"/>
<rect x="1018" y="271" width="5" height="57" fill="#0c2d90"/>
<rect x="1029" y="245" width="1" height="53" fill="#801922"/>
<rect x="1026" y="270" width="7" height="11" fill="#801922"/>
<rect x="1027" y="271" width="5" height="9" fill="#f9a3aa"/>
<rect x="1038" y="247" width="1" height="53" fill="#2962ff"/>
<rect x="1035" y="266" width="7" height="15" fill="#2962ff"/>
<rect x="1036" y="267" width="5" height="13" fill="#0c2d90"/>
<rect x="1046" y="234" width="1" height="34" fill="#2962ff"/>
<rect x="1043" y="241" width="7" height="26" fill="#2962ff"/>
<rect x="1044" y="242" width="5" height="24" fill="#0c2d90"/>
<rect x="1055" y="209" width="1" height="42" fill="#2962ff"/>
<rect x="1052" y="212" width="7" height="30" fill="#2962ff"/>
<rect x="1053" y="213" width="5" height="28" fill="#0c2d90"/>
<rect x="1064" y="195" width="1" height="47" fill="#801922"/>
<rect x="1061" y="212" width="7" height="2" fill="#801922"/>
<rect x="1073" y="181" width="1" height="84" fill="#801922"/>
<rect x="1070" y="213" width="7" height="37" fill="#801922"/>
<rect x="1071" y="214" width="5" height="35" fill="#f9a3aa"/>
<rect x="1082" y="211" width="1" height="97" fill="#801922"/>
<rect x="1079" y="249" width="7" height="38" fill="#801922"/>
<rect x="1080" y="250" width="5" height="36" fill="#f9a3aa"/>
<rect x="1090" y="278" width="1" height="38" fill="#801922"/>
<rect x="1087" y="286" width="7" height="14" fill="#801922"/>
<rect x="1088" y="287" width="5" height="12" fill="#f9a3aa"/>
<rect x="1099" y="293" width="1" height="29" fill="#801922"/>
<rect x="1096" y="299" width="7" height="11" fill="#801922"/>
<rect x="1097" y="300" width="5" height="9" fill="#f9a3aa"/>
<rect x="1108" y="271" width="1" height="52" fill="#2962ff"/>
<rect x="1105" y="272" width="7" height="38" fill="#2962ff"/>
<rect x="1106" y="273" width="5" height="36" fill="#0c2d90"/>
<rect x="1117" y="270" width="1" height="56" fill="#801922"/>
<rect x="1114" y="272" width="7" height="28" fill="#801922"/>
<rect x="1115" y="273" width="5" height="26" fill="#f9a3aa"/>
<rect x="1126" y="228" width="1" height="80" fill="#2962ff"/>
<rect x="1123" y="294" width="7" height="6" fill="#2962ff"/>
<rect x="1124" y="295" width="5" height="4" fill="#0c2d90"/>
<rect x="1135" y="236" width="1" height="68" fill="#2962ff"/>
<rect x="1132" y="283" width="7" height="12" fill="#2962ff"/>
<rect x="1133" y="284" width="5" height="10" fill="#0c2d90"/>
<rect x="1143" y="272" width="1" height="39" fill="#801922"/>
<rect x="1140" y="283" width="7" height="15" fill="#801922"/>
<rect x="1141" y="284" width="5" height="13" fill="#f9a3aa"/>
<rect x="1152" y="275" width="1" height="29" fill="#801922"/>
<rect x="1149" y="297" width="7" height="3" fill="#801922"/>
<rect x="1150" y="298" width="5" height="1" fill="#f9a3aa"/>
<rect x="1161" y="287" width="1" height="22" fill="#801922"/>
<rect x="1158" y="299" width="7" height="2" fill="#801922"/>
<rect x="1170" y="300" width="1" height="44" fill="#801922"/>
<rect x="1167" y="300" width="7" height="24" fill="#801922"/>
<rect x="1168" y="301" width="5" height="22" fill="#f9a3aa"/>
<rect x="1179" y="259" width="1" height="104" fill="#2962ff"/>
<rect x="1176" y="266" width="7" height="58" fill="#2962ff"/>
<rect x="1177" y="267" width="5" height="56" fill="#0c2d90"/>
<rect x="1187" y="202" width="1" height="74" fill="#2962ff"/>
<rect x="1184" y="205" width="7" height="62" fill="#2962ff"/>
<rect x="1185" y="206" width="5" height="60" fill="#0c2d90"/>
<rect x="1196" y="195" width="1" height="27" fill="#801922"/>
<rect x="1193" y="205" width="7" height="11" fill="#801922"/>
<rect x="1194" y="206" width="5" height="9" fill="#f9a3aa"/>
<rect x="1205" y="199" width="1" height="24" fill="#2962ff"/>
<rect x="1202" y="214" width="7" height="1" fill="#2962ff"/>
<rect x="1214" y="214" width="1" height="39" fill="#801922"/>
<rect x="1211" y="214" width="7" height="32" fill="#801922"/>
<rect x="1212" y="215" width="5" height="30" fill="#f9a3aa"/>
<rect x="1223" y="210" width="1" height="83" fill="#801922"/>
<rect x="1220" y="245" width="7" height="43" fill="#801922"/>
<rect x="1221" y="246" width="5" height="41" fill="#f9a3aa"/>
<rect x="1231" y="233" width="1" height="73" fill="#2962ff"/>
<rect x="1228" y="270" width="7" height="18" fill="#2962ff"/>
<rect x="1229" y="271" width="5" height="16" fill="#0c2d90"/>
<rect x="1240" y="220" width="1" height="60" fill="#2962ff"/>
<rect x="1237" y="238" width="7" height="32" fill="#2962ff"/>
<rect x="1238" y="239" width="5" height="30" fill="#0c2d90"/>
<rect x="1249" y="218" width="1" height="30" fill="#801922"/>
<rect x="1246" y="238" width="7" height="3" fill="#801922"/>
<rect x="1247" y="239" width="5" height="1" fill="#f9a3aa"/>
<rect x="1258" y="224" width="1" height="36" fill="#801922"/>
<rect x="1255" y="240" width="7" height="7" fill="#801922"/>
<rect x="1256" y="241" width="5" height="5" fill="#f9a3aa"/>
<rect x="1267" y="217" width="1" height="34" fill="#2962ff"/>
<rect x="1264" y="225" width="7" height="22" fill="#2962ff"/>
<rect x="1265" y="226" width="5" height="20" fill="#0c2d90"/>
<rect x="1276" y="164" width="1" height="87" fill="#2962ff"/>
<rect x="1273" y="198" width="7" height="28" fill="#2962ff"/>
<rect x="1274" y="199" width="5" height="26" fill="#0c2d90"/>
<rect x="1284" y="125" width="1" height="78" fill="#2962ff"/>
<rect x="1281" y="135" width="7" height="63" fill="#2962ff"/>
<rect x="1282" y="136" width="5" height="61" fill="#0c2d90"/>
<rect x="1293" y="130" width="1" height="62" fill="#801922"/>
<rect x="1290" y="135" width="7" height="31" fill="#801922"/>
<rect x="1291" y="136" width="5" height="29" fill="#f9a3aa"/>
<rect x="1302" y="142" width="1" height="32" fill="#2962ff"/>
<rect x="1299" y="163" width="7" height="3" fill="#2962ff"/>
<rect x="1300" y="164" width="5" height="1" fill="#0c2d90"/>
<rect x="1311" y="152" width="1" height="14" fill="#2962ff"/>
<rect x="1308" y="160" width="7" height="4" fill="#2962ff"/>
<rect x="1309" y="161" width="5" height="2" fill="#0c2d90"/>
<rect x="1320" y="116" width="1" height="50" fill="#2962ff"/>
<rect x="1317" y="133" width="7" height="27" fill="#2962ff"/>
<rect x="1318" y="134" width="5" height="25" fill="#0c2d90"/>
<rect x="1328" y="82" width="1" height="54" fill="#2962ff"/>
<rect x="1325" y="113" width="7" height="22" fill="#2962ff"/>
<rect x="1326" y="114" width="5" height="20" fill="#0c2d90"/>
<rect x="1337" y="69" width="1" height="48" fill="#2962ff"/>
<rect x="1334" y="86" width="7" height="28" fill="#2962ff"/>
<rect x="1335" y="87" width="5" height="26" fill="#0c2d90"/>
<rect x="1346" y="27" width="1" height="63" fill="#2962ff"/>
<rect x="1343" y="54" width="7" height="33" fill="#2962ff"/>
<rect x="1344" y="55" width="5" height="31" fill="#0c2d90"/>
<rect x="1355" y="35" width="1" height="28" fill="#2962ff"/>
<rect x="1352" y="47" width="7" height="8" fill="#2962ff"/>
<rect x="1353" y="48" width="5" height="6" fill="#0c2d90"/>
</g>
<text x="1737" y="60" fill="#ff9800" text-anchor="end" class="fb">0.786 (1.36503)</text>
<text x="1737" y="87" fill="#ff9800" text-anchor="end" class="fb">0.764 (1.36361)</text>
<text x="1737" y="265" fill="#ff9800" text-anchor="end" class="fb">0.618 (1.35416)</text>
<text x="1737" y="409" fill="#ff9800" text-anchor="end" class="fb">0.5 (1.34652)</text>
<text x="1737" y="504.5" fill="#2962ff" text-anchor="end" class="fb">0.786 (1.34137)</text>
<text x="1737" y="552" fill="#ff9800" text-anchor="end" class="fb">0.382 (1.33888)</text>
<!-- legend -->
<g fill="#131722" stroke="#131722" stroke-width="0.2" style="font-size:15.3px"><text x="1.8000000000000003" y="14" textLength="45.8" lengthAdjust="spacingAndGlyphs">British</text><text x="52.9" y="14" textLength="42.7" lengthAdjust="spacingAndGlyphs">Pound</text><line x1="102.6" y1="13.6" x2="107.4" y2="3.2" stroke-width="1.35"/><text x="114.1" y="14" textLength="28.5" lengthAdjust="spacingAndGlyphs">U.S.</text><text x="148.6" y="14" textLength="42.69999999999999" lengthAdjust="spacingAndGlyphs">Dollar</text><circle cx="197" cy="8.9" r="1.15"/><text x="202.1" y="14" textLength="18.0" lengthAdjust="spacingAndGlyphs">4h</text><circle cx="226" cy="8.9" r="1.15"/><text x="232.1" y="14" textLength="78.5" lengthAdjust="spacingAndGlyphs">FOREXCOM</text></g>
<text x="317.6" y="13.3" fill="#2962ff" style="font-size:13.2px" textLength="106" lengthAdjust="spacingAndGlyphs">+0.00036 (+0.03%)</text>
<rect x="0" y="24" width="29" height="16" fill="#eeeeee" fill-opacity="0.6"/>
<text x="2" y="37" fill="#a8a8a8" style="font-size:11px">SMA</text>
<g fill="none" stroke="#111" stroke-width="1.1"><path d="M36.3 32 Q43 20.5 49.7 32 Q43 43.5 36.3 32Z"/><path d="M41 34 Q43 36 45 33"/><line x1="37.3" y1="37.6" x2="48.6" y2="26.3"/></g>
<rect x="2" y="47.5" width="27" height="20" rx="3" fill="#eeeeee" stroke="#d6d6d6"/>
<path d="M11.5 59.5 L15.5 55.5 L19.5 59.5" fill="none" stroke="#222" stroke-width="1.4"/>
<!-- TV logo -->
<path d="M3 670 H37.8 L30.8 689 H9 V680 H3 Z" fill="#fff" stroke="#fff" stroke-width="0.6" stroke-linejoin="round"/>
<g fill="#131313"><path d="M5 672 H17 V687 H11 V678 H5 Z M28.4 672 H34.8 L29.2 687 H22 Z"/><circle cx="22" cy="675" r="2.8"/></g>
<g shape-rendering="crispEdges">
<text x="1796.6" y="17.0" fill="#131722" stroke="#131722" stroke-width="0.2" text-anchor="end" class="ax" textLength="42.2" lengthAdjust="spacingAndGlyphs">1.36800</text><text x="1796.6" y="54.599999999999994" fill="#131722" stroke="#131722" stroke-width="0.2" text-anchor="end" class="ax" textLength="42.2" lengthAdjust="spacingAndGlyphs">1.36600</text><text x="1796.6" y="92.2" fill="#131722" stroke="#131722" stroke-width="0.2" text-anchor="end" class="ax" textLength="42.2" lengthAdjust="spacingAndGlyphs">1.36400</text><text x="1796.6" y="129.9" fill="#131722" stroke="#131722" stroke-width="0.2" text-anchor="end" class="ax" textLength="42.2" lengthAdjust="spacingAndGlyphs">1.36200</text><text x="1796.6" y="167.5" fill="#131722" stroke="#131722" stroke-width="0.2" text-anchor="end" class="ax" textLength="42.2" lengthAdjust="spacingAndGlyphs">1.36000</text><text x="1796.6" y="205.20000000000002" fill="#131722" stroke="#131722" stroke-width="0.2" text-anchor="end" class="ax" textLength="42.2" lengthAdjust="spacingAndGlyphs">1.35800</text><text x="1796.6" y="242.8" fill="#131722" stroke="#131722" stroke-width="0.2" text-anchor="end" class="ax" textLength="42.2" lengthAdjust="spacingAndGlyphs">1.35600</text><text x="1796.6" y="280.40000000000003" fill="#131722" stroke="#131722" stroke-width="0.2" text-anchor="end" class="ax" textLength="42.2" lengthAdjust="spacingAndGlyphs">1.35400</text><text x="1796.6" y="318.1" fill="#131722" stroke="#131722" stroke-width="0.2" text-anchor="end" class="ax" textLength="42.2" lengthAdjust="spacingAndGlyphs">1.35200</text><text x="1796.6" y="468.5" fill="#131722" stroke="#131722" stroke-width="0.2" text-anchor="end" class="ax" textLength="42.2" lengthAdjust="spacingAndGlyphs">1.34400</text><text x="1796.6" y="506.2" fill="#131722" stroke="#131722" stroke-width="0.2" text-anchor="end" class="ax" textLength="42.2" lengthAdjust="spacingAndGlyphs">1.34200</text><text x="1796.6" y="581.4" fill="#131722" stroke="#131722" stroke-width="0.2" text-anchor="end" class="ax" textLength="42.2" lengthAdjust="spacingAndGlyphs">1.33800</text><text x="1796.6" y="656.5999999999999" fill="#131722" stroke="#131722" stroke-width="0.2" text-anchor="end" class="ax" textLength="42.2" lengthAdjust="spacingAndGlyphs">1.33400</text><text x="1796.6" y="694.1999999999999" fill="#131722" stroke="#131722" stroke-width="0.2" text-anchor="end" class="ax" textLength="42.2" lengthAdjust="spacingAndGlyphs">1.33200</text><rect x="1746" y="23.0" width="55" height="17" fill="#000"/><text x="1796.6" y="35.8" fill="#fff" stroke="#fff" stroke-width="0.25" text-anchor="end" class="ax" textLength="42.2" lengthAdjust="spacingAndGlyphs">1.36704</text><rect x="1746" y="124.0" width="55" height="17" fill="#f23645"/><text x="1796.6" y="136.8" fill="#fff" stroke="#fff" stroke-width="0.25" text-anchor="end" class="ax" textLength="42.2" lengthAdjust="spacingAndGlyphs">1.36168</text><rect x="1746" y="167.0" width="55" height="17" fill="#000"/><text x="1796.6" y="179.8" fill="#fff" stroke="#fff" stroke-width="0.25" text-anchor="end" class="ax" textLength="42.2" lengthAdjust="spacingAndGlyphs">1.35934</text><rect x="1746" y="323.0" width="55" height="17" fill="#2962ff"/><text x="1796.6" y="335.8" fill="#fff" stroke="#fff" stroke-width="0.25" text-anchor="end" class="ax" textLength="42.2" lengthAdjust="spacingAndGlyphs">1.35108</text><rect x="1746" y="343.0" width="55" height="17" fill="#ff9800"/><text x="1796.6" y="355.8" fill="#000" stroke="#000" stroke-width="0.25" text-anchor="end" class="ax" textLength="42.2" lengthAdjust="spacingAndGlyphs">1.35000</text><rect x="1746" y="376.0" width="55" height="17" fill="#f23645"/><text x="1796.6" y="388.8" fill="#fff" stroke="#fff" stroke-width="0.25" text-anchor="end" class="ax" textLength="42.2" lengthAdjust="spacingAndGlyphs">1.34825</text><rect x="1746" y="414.0" width="55" height="17" fill="#2962ff"/><text x="1796.6" y="426.8" fill="#fff" stroke="#fff" stroke-width="0.25" text-anchor="end" class="ax" textLength="42.2" lengthAdjust="spacingAndGlyphs">1.34621</text><rect x="1746" y="533.0" width="55" height="17" fill="#0d2b8f"/><text x="1796.6" y="545.8" fill="#fff" stroke="#fff" stroke-width="0.25" text-anchor="end" class="ax" textLength="42.2" lengthAdjust="spacingAndGlyphs">1.33993</text><rect x="1746" y="550.0" width="55" height="17" fill="#2962ff"/><text x="1796.6" y="562.8" fill="#fff" stroke="#fff" stroke-width="0.25" text-anchor="end" class="ax" textLength="42.2" lengthAdjust="spacingAndGlyphs">1.33949</text><rect x="1746" y="587.0" width="55" height="17" fill="#000"/><text x="1796.6" y="599.8" fill="#fff" stroke="#fff" stroke-width="0.25" text-anchor="end" class="ax" textLength="42.2" lengthAdjust="spacingAndGlyphs">1.33706</text><rect x="1746" y="604.0" width="55" height="17" fill="#2962ff"/><text x="1796.6" y="616.8" fill="#fff" stroke="#fff" stroke-width="0.25" text-anchor="end" class="ax" textLength="42.2" lengthAdjust="spacingAndGlyphs">1.33652</text><rect x="1746" y="658.0" width="55" height="17" fill="#2962ff"/><text x="1796.6" y="670.8" fill="#fff" stroke="#fff" stroke-width="0.25" text-anchor="end" class="ax" textLength="42.2" lengthAdjust="spacingAndGlyphs">1.33327</text>
</g>
<text x="6.4" y="719" fill="#131722" text-anchor="middle" class="dt" stroke="#131722" stroke-width="0.25" textLength="12.4" lengthAdjust="spacingAndGlyphs">12</text>
<text x="59.4" y="719" fill="#131722" text-anchor="middle" class="dt" stroke="#131722" stroke-width="0.25" textLength="12.4" lengthAdjust="spacingAndGlyphs">13</text>
<text x="112.4" y="719" fill="#131722" text-anchor="middle" class="dt" stroke="#131722" stroke-width="0.25" textLength="12.4" lengthAdjust="spacingAndGlyphs">14</text>
<text x="165.4" y="719" fill="#131722" text-anchor="middle" class="dt" stroke="#131722" stroke-width="0.25" textLength="12.4" lengthAdjust="spacingAndGlyphs">15</text>
<text x="218.4" y="719" fill="#131722" text-anchor="middle" class="dt" stroke="#131722" stroke-width="0.25" textLength="12.4" lengthAdjust="spacingAndGlyphs">18</text>
<text x="271.4" y="719" fill="#131722" text-anchor="middle" class="dt" stroke="#131722" stroke-width="0.25" textLength="12.4" lengthAdjust="spacingAndGlyphs">19</text>
<text x="323.4" y="719" fill="#131722" text-anchor="middle" class="dt" stroke="#131722" stroke-width="0.25" textLength="12.4" lengthAdjust="spacingAndGlyphs">20</text>
<text x="376.4" y="719" fill="#131722" text-anchor="middle" class="dt" stroke="#131722" stroke-width="0.25" textLength="12.4" lengthAdjust="spacingAndGlyphs">21</text>
<text x="429.4" y="719" fill="#131722" text-anchor="middle" class="dt" stroke="#131722" stroke-width="0.25" textLength="12.4" lengthAdjust="spacingAndGlyphs">22</text>
<text x="482.4" y="719" fill="#131722" text-anchor="middle" class="dt" stroke="#131722" stroke-width="0.25" textLength="12.4" lengthAdjust="spacingAndGlyphs">25</text>
<text x="535.4" y="719" fill="#131722" text-anchor="middle" class="dt" stroke="#131722" stroke-width="0.25" textLength="12.4" lengthAdjust="spacingAndGlyphs">26</text>
<text x="588.4" y="719" fill="#131722" text-anchor="middle" class="dt" stroke="#131722" stroke-width="0.25" textLength="12.4" lengthAdjust="spacingAndGlyphs">27</text>
<text x="641.4" y="719" fill="#131722" text-anchor="middle" class="dt" stroke="#131722" stroke-width="0.25" textLength="12.4" lengthAdjust="spacingAndGlyphs">28</text>
<text x="694.4" y="719" fill="#131722" text-anchor="middle" class="dt" stroke="#131722" stroke-width="0.25" textLength="12.4" lengthAdjust="spacingAndGlyphs">29</text>
<text x="747.1999999999999" y="719" fill="#131722" text-anchor="middle" class="dt" style="font-weight:bold;font-size:11.5px">Sep</text>
<text x="799.4" y="719" fill="#131722" text-anchor="middle" class="dt" stroke="#131722" stroke-width="0.25" textLength="6.2" lengthAdjust="spacingAndGlyphs">2</text>
<text x="852.4" y="719" fill="#131722" text-anchor="middle" class="dt" stroke="#131722" stroke-width="0.25" textLength="6.2" lengthAdjust="spacingAndGlyphs">3</text>
<text x="905.4" y="719" fill="#131722" text-anchor="middle" class="dt" stroke="#131722" stroke-width="0.25" textLength="6.2" lengthAdjust="spacingAndGlyphs">4</text>
<text x="958.4" y="719" fill="#131722" text-anchor="middle" class="dt" stroke="#131722" stroke-width="0.25" textLength="6.2" lengthAdjust="spacingAndGlyphs">5</text>
<text x="1011.4" y="719" fill="#131722" text-anchor="middle" class="dt" stroke="#131722" stroke-width="0.25" textLength="6.2" lengthAdjust="spacingAndGlyphs">8</text>
<text x="1064.4" y="719" fill="#131722" text-anchor="middle" class="dt" stroke="#131722" stroke-width="0.25" textLength="6.2" lengthAdjust="spacingAndGlyphs">9</text>
<text x="1117.4" y="719" fill="#131722" text-anchor="middle" class="dt" stroke="#131722" stroke-width="0.25" textLength="12.4" lengthAdjust="spacingAndGlyphs">10</text>
<text x="1170.4" y="719" fill="#131722" text-anchor="middle" class="dt" stroke="#131722" stroke-width="0.25" textLength="12.4" lengthAdjust="spacingAndGlyphs">11</text>
<text x="1222.4" y="719" fill="#131722" text-anchor="middle" class="dt" stroke="#131722" stroke-width="0.25" textLength="12.4" lengthAdjust="spacingAndGlyphs">12</text>
<text x="1275.4" y="719" fill="#131722" text-anchor="middle" class="dt" stroke="#131722" stroke-width="0.25" textLength="12.4" lengthAdjust="spacingAndGlyphs">15</text>
<text x="1328.4" y="719" fill="#131722" text-anchor="middle" class="dt" stroke="#131722" stroke-width="0.25" textLength="12.4" lengthAdjust="spacingAndGlyphs">16</text>
<text x="1381.4" y="719" fill="#131722" text-anchor="middle" class="dt" stroke="#131722" stroke-width="0.25" textLength="12.4" lengthAdjust="spacingAndGlyphs">17</text>
<text x="1434.4" y="719" fill="#131722" text-anchor="middle" class="dt" stroke="#131722" stroke-width="0.25" textLength="12.4" lengthAdjust="spacingAndGlyphs">18</text>
<text x="1487.4" y="719" fill="#131722" text-anchor="middle" class="dt" stroke="#131722" stroke-width="0.25" textLength="12.4" lengthAdjust="spacingAndGlyphs">19</text>
<text x="1540.4" y="719" fill="#131722" text-anchor="middle" class="dt" stroke="#131722" stroke-width="0.25" textLength="12.4" lengthAdjust="spacingAndGlyphs">22</text>
<text x="1593.4" y="719" fill="#131722" text-anchor="middle" class="dt" stroke="#131722" stroke-width="0.25" textLength="12.4" lengthAdjust="spacingAndGlyphs">23</text>
<text x="1646.4" y="719" fill="#131722" text-anchor="middle" class="dt" stroke="#131722" stroke-width="0.25" textLength="12.4" lengthAdjust="spacingAndGlyphs">24</text>
<text x="1698.4" y="719" fill="#131722" text-anchor="middle" class="dt" stroke="#131722" stroke-width="0.25" textLength="12.4" lengthAdjust="spacingAndGlyphs">25</text>
<!-- settings icon -->
<g fill="none" stroke="#131722" stroke-width="1.2" stroke-linejoin="round"><path d="M1772.6 709.6 H1780.4 L1783.5 715.5 L1780.4 721.4 H1772.6 L1769.4 715.5Z"/><circle cx="1776.5" cy="715.5" r="1.75"/></g>
</svg>
</body></html>
